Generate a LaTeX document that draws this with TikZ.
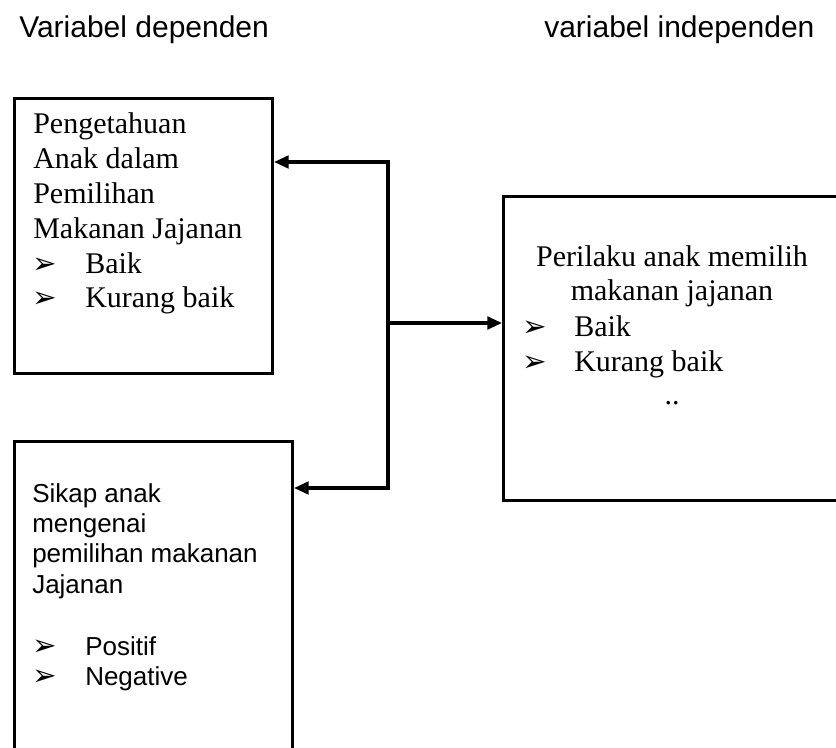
\documentclass[tikz,border=0pt]{standalone}
\usepackage{fontspec}
\setmainfont{Liberation Serif}
\newfontfamily\arialf{Liberation Sans}
\newfontfamily\dejavu{DejaVu Sans}
\usetikzlibrary{arrows.meta}
\begin{document}
\begin{tikzpicture}[x=0.75pt,y=-0.75pt,
  box/.style={draw, line width=2.3pt, anchor=north west, inner sep=0pt, rectangle},
  arr/.style={line width=2.3pt, line join=miter, -{Triangle[length=11pt,width=9.5pt]}},
  hdr/.style={anchor=base west, inner sep=0pt, font=\arialf\fontsize{22.5}{26}\selectfont},
  tline/.style={anchor=base west, inner sep=0pt, font=\fontsize{22.5}{26}\selectfont},
  tcen/.style={anchor=base, inner sep=0pt, font=\fontsize{22.5}{26}\selectfont},
  aline/.style={anchor=base west, inner sep=0pt, font=\arialf\fontsize{19.5}{23}\selectfont},
  bul/.style={anchor=base west, inner sep=0pt, font=\dejavu\fontsize{22}{24}\selectfont}]
\clip (0,0) rectangle (836,748);
\fill[white] (0,0) rectangle (836,748);
% headers
\node[hdr] (h1) at (19,38) {Variabel dependen};
\node[hdr] (h2) at (544,38) {variabel independen};
% boxes
\node[box, minimum width=193.5pt, minimum height=206.25pt] (b1) at (13,97) {};
\node[box, minimum width=208.5pt, minimum height=247.5pt] (b2) at (13,440) {};
\node[box, minimum width=270pt, minimum height=228pt] (b3) at (502,195) {};
% box 1 text
\node[tline] (t11) at (33,134) {Pengetahuan};
\node[tline] (t12) at (33,169) {Anak dalam};
\node[tline] (t13) at (33,204) {Pemilihan};
\node[tline] (t14) at (33,239) {Makanan Jajanan};
\node[bul] (u15) at (32,274) {➢};
\node[tline] (t15) at (85,274) {Baik};
\node[bul] (u16) at (32,308) {➢};
\node[tline] (t16) at (85,308) {Kurang baik};
% box 2 text
\node[aline] (t21) at (32,503) {Sikap anak};
\node[aline] (t22) at (32,533) {mengenai};
\node[aline] (t23) at (32,563) {pemilihan makanan};
\node[aline] (t24) at (32,594) {Jajanan};
\node[bul] (u25) at (32,655) {➢};
\node[aline] (t25) at (85,655) {Positif};
\node[bul] (u26) at (32,685) {➢};
\node[aline] (t26) at (85,685) {Negative};
% box 3 text
\node[tcen] (t31) at (672,267) {Perilaku anak memilih};
\node[tcen] (t32) at (672,301) {makanan jajanan};
\node[bul] (u33) at (522,337) {➢};
\node[tline] (t33) at (574,337) {Baik};
\node[bul] (u34) at (522,372) {➢};
\node[tline] (t34) at (574,372) {Kurang baik};
\node[tcen] (t35) at (672,405) {..};
% connectors
\coordinate (ctop) at (388,162);
\coordinate (cmid) at (388,323);
\coordinate (cbot) at (388,488);
\draw[arr] (cmid) -- (ctop) -- (ctop -| b1.east);
\draw[arr] (cmid) -- (cbot) -- (cbot -| b2.east);
\draw[arr] (cmid) -- (cmid -| b3.west);
\end{tikzpicture}
\end{document}
